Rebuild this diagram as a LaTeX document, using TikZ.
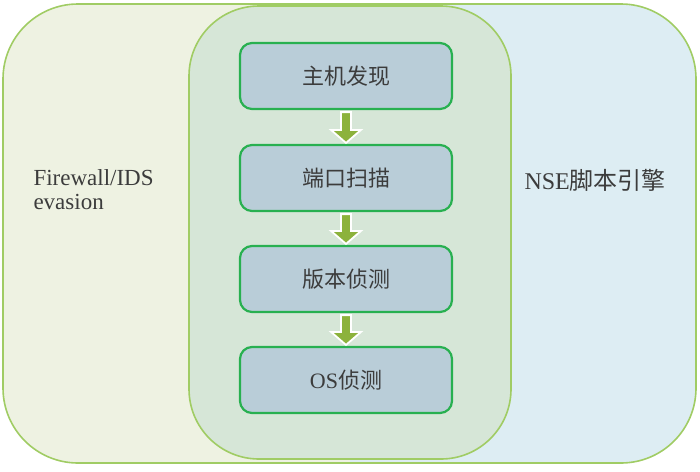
\documentclass[tikz,border=0pt]{standalone}
\usepackage{fontspec}
\setmainfont{Liberation Serif}
\newfontfamily\cjk{Noto Sans CJK SC}
\usepackage{tikz}
\usetikzlibrary{calc,positioning}
\usepackage{xcolor}
\definecolor{Paille}{RGB}{238,242,226}
\definecolor{Ciel}{RGB}{221,237,243}
\definecolor{Menthe}{RGB}{214,230,215}
\definecolor{Prairie}{RGB}{160,204,100}
\definecolor{Ardoise}{RGB}{185,205,216}
\definecolor{Emeraude}{RGB}{40,176,80}
\definecolor{Olive}{RGB}{140,178,60}
\definecolor{Encre}{RGB}{60,60,60}

\tikzset{
  etape/.style={draw=Emeraude, line width=2.2pt, fill=Ardoise, rounded corners=12pt,
    minimum width=212pt, minimum height=66pt, inner sep=0pt, text=Encre,
    font=\fontsize{22}{26}\selectfont\cjk},
  zone/.style={draw=Prairie, line width=1.6pt, rounded corners=75pt},
  fleche/.style={fill=Olive, draw=white, line width=1.8pt, line join=miter},
}

\begin{document}
\begin{tikzpicture}[x=1pt,y=-1pt]
\useasboundingbox (0,0) rectangle (700,471);
% outer zones
\begin{scope}
\clip[rounded corners=75pt] (3,4) rectangle (696,463);
\fill[Paille] (0,0) rectangle (350,471);
\fill[Ciel] (350,0) rectangle (700,471);
\end{scope}
\draw[zone] (3,4) rectangle (696,463);
\draw[zone,fill=Menthe,rounded corners=70pt] (189,6) rectangle (511,459);
%
\node[text=Encre, align=left, anchor=west, font=\fontsize{23}{24}\selectfont] (evasion) at (30,190) {Firewall/IDS\\evasion};
\node[text=Encre, anchor=west, font=\fontsize{24}{26}\selectfont] (nse) at (521,180) {NSE{\cjk 脚本引擎}};
%
% scan steps
\node[etape] (hote) at (346,76) {主机发现};
\node[etape] (port) at (346,178) {端口扫描};
\node[etape] (version) at (346,279) {版本侦测};
\node[etape] (os) at (346,380) {{\rmfamily OS}侦测};
%
\foreach \a/\b in {hote/port, port/version, version/os}
  \draw[fleche] ($(\a.south)+(-5,2)$) -- ($(\b.north)+(-5,-14)$) -- ($(\b.north)+(-15,-14)$)
     -- ($(\b.north)+(0,-1)$) -- ($(\b.north)+(15,-14)$) -- ($(\b.north)+(5,-14)$)
     -- ($(\a.south)+(5,2)$) -- cycle;
%
\end{tikzpicture}
\end{document}
